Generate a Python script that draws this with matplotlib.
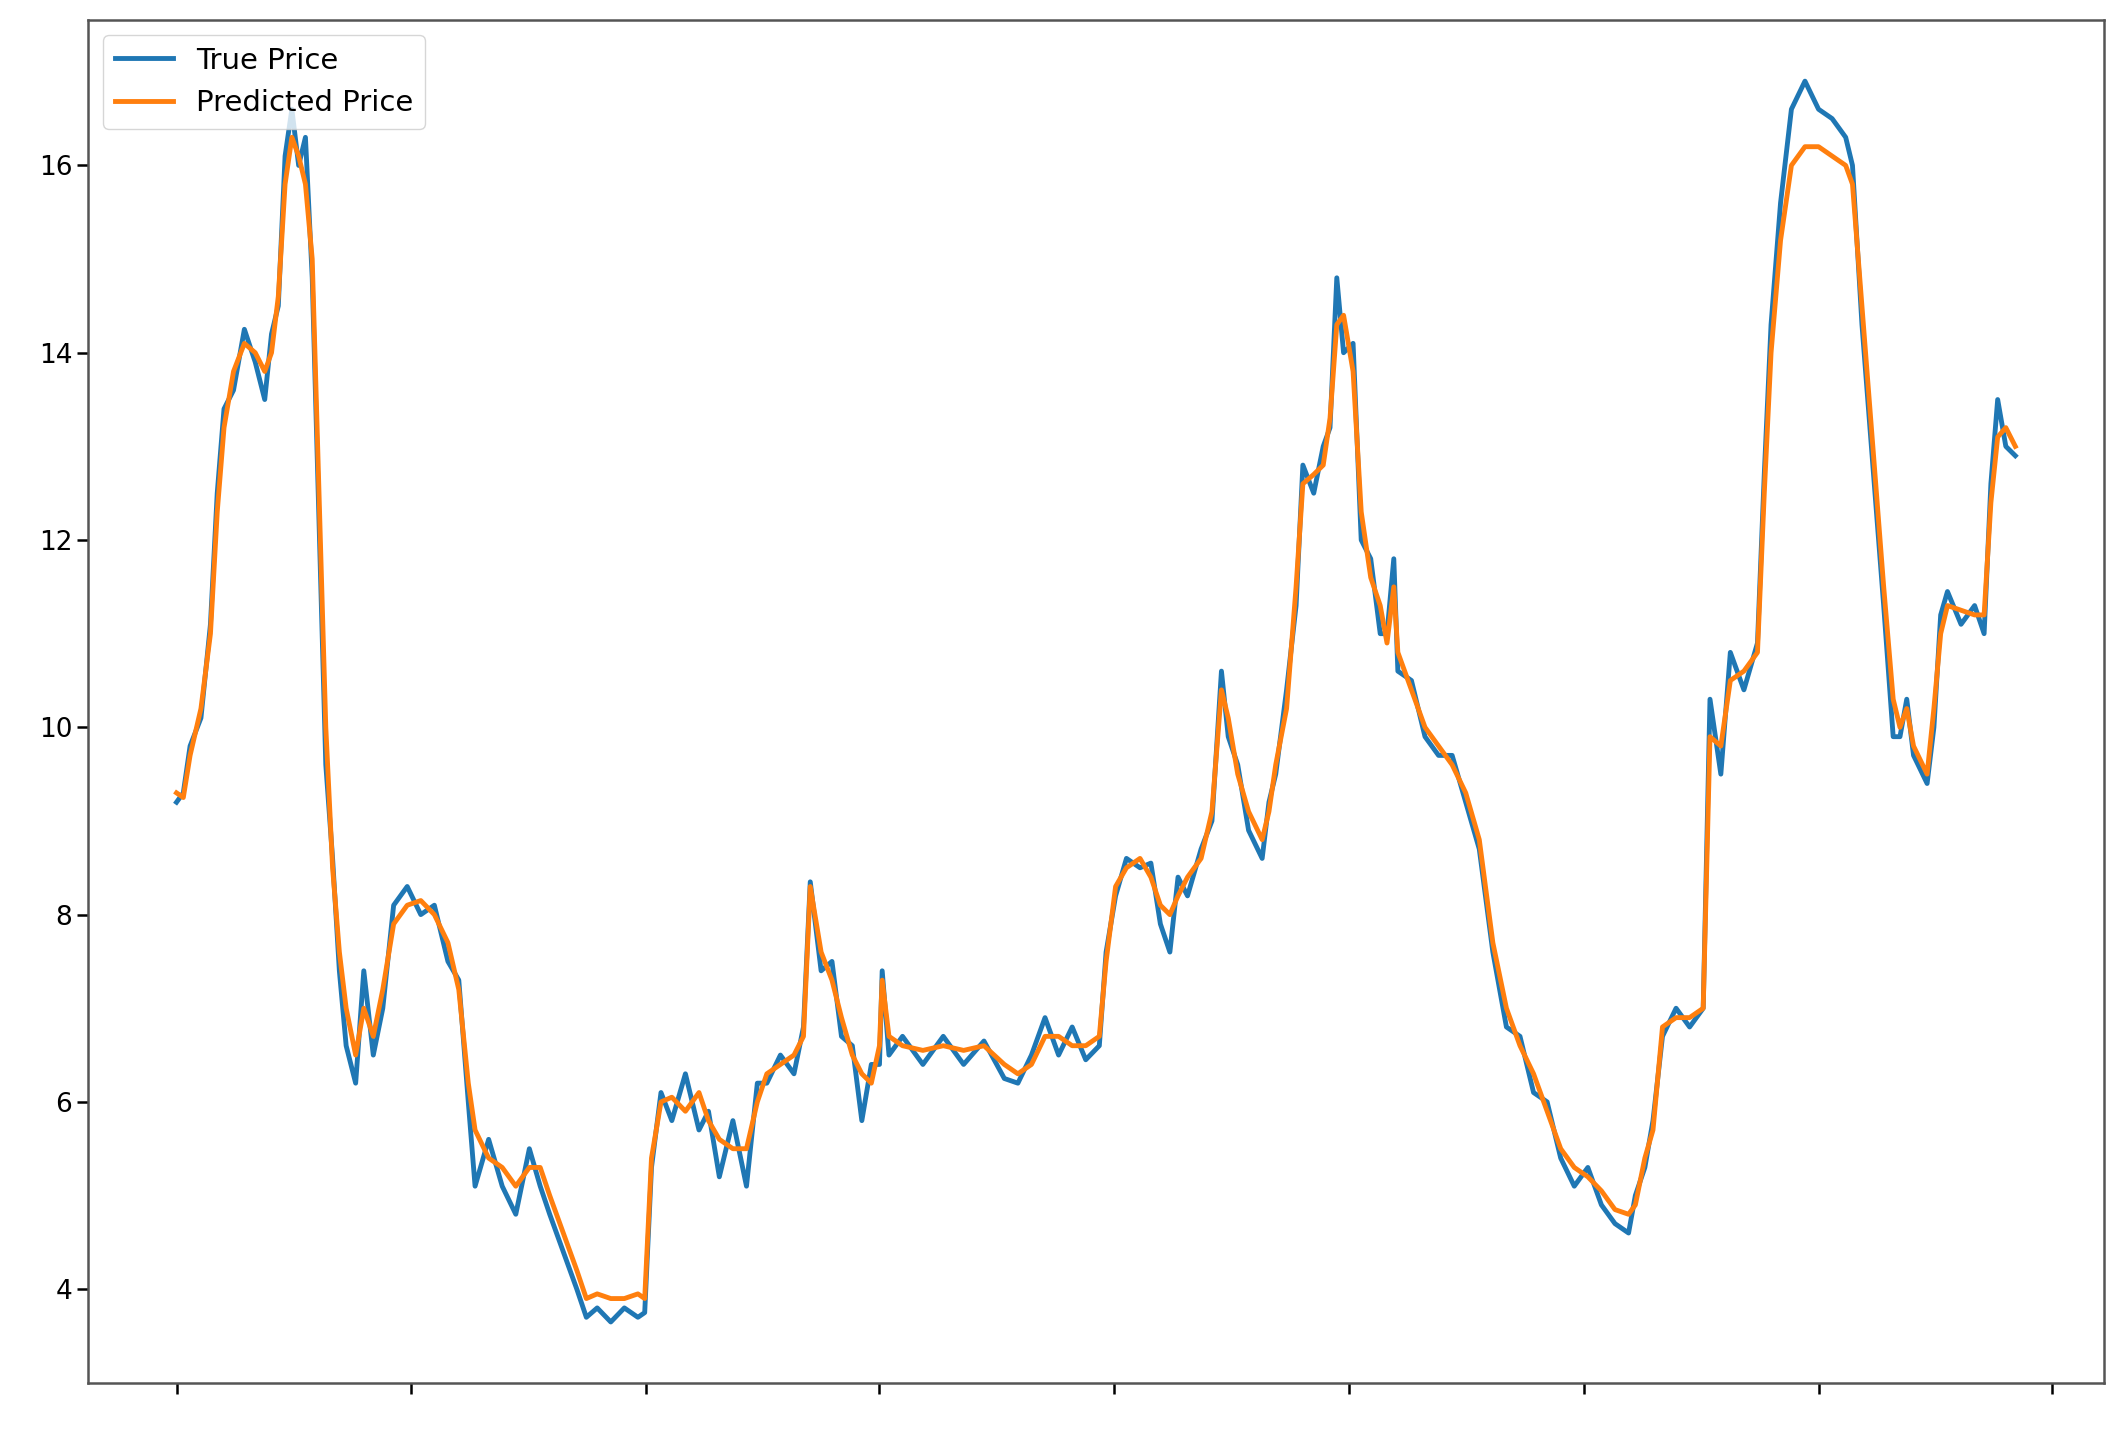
import numpy as np
import matplotlib.pyplot as plt

# time step (horizontal) positions of the sampled points
steps = [0, 5, 10, 18, 25, 30, 35, 42, 50, 58, 65, 70, 75, 80, 85, 90, 95, 100, 105, 110,
         115, 120, 125, 132, 138, 145, 152, 160, 170, 180, 190, 200, 208, 215, 220, 230, 240, 250,
         260, 268, 275, 285, 295, 302, 310, 320, 330, 340, 345, 350, 357, 365, 375, 385, 392, 400,
         410, 420, 428, 435, 445, 455, 462, 467, 475, 483, 490, 498, 505, 512, 518, 520, 525, 535,
         550, 565, 580, 595, 610, 620, 630, 640, 650, 660, 670, 680, 685, 692, 700, 710, 718, 725,
         732, 738, 745, 755, 763, 770, 775, 782, 790, 800, 805, 810, 818, 825, 830, 838, 845, 850,
         855, 860, 867, 873, 880, 887, 892, 897, 900, 910, 920, 930, 940, 950, 960, 970, 980, 990,
         1000, 1010, 1020, 1030, 1040, 1050, 1060, 1070, 1075, 1082, 1088, 1095, 1105, 1115, 1125,
         1130, 1138, 1145, 1155, 1165, 1170, 1175, 1182, 1190, 1200, 1210, 1220, 1230, 1235, 1242,
         1250, 1258, 1265, 1270, 1275, 1280, 1290, 1295, 1300, 1305, 1315, 1325, 1332, 1337, 1342,
         1348, 1355]

predicted = [9.3, 9.25, 9.7, 10.2, 11.0, 12.3, 13.2, 13.8, 14.1, 14.0, 13.8, 14.0, 14.6, 15.8,
             16.3, 16.1, 15.8, 15.0, 12.5, 10.0, 8.5, 7.6, 7.0, 6.5, 7.0, 6.7, 7.2, 7.9, 8.1, 8.15,
             8.0, 7.7, 7.2, 6.2, 5.7, 5.4, 5.3, 5.1, 5.3, 5.3, 5.0, 4.6, 4.2, 3.9, 3.95, 3.9, 3.9,
             3.95, 3.9, 5.4, 6.0, 6.05, 5.9, 6.1, 5.8, 5.6, 5.5, 5.5, 6.0, 6.3, 6.4, 6.5, 6.7, 8.3,
             7.6, 7.3, 6.9, 6.5, 6.3, 6.2, 6.6, 7.3, 6.7, 6.6, 6.55, 6.6, 6.55, 6.6, 6.4, 6.3, 6.4,
             6.7, 6.7, 6.6, 6.6, 6.7, 7.5, 8.3, 8.5, 8.6, 8.4, 8.1, 8.0, 8.2, 8.4, 8.6, 9.1, 10.4,
             10.1, 9.5, 9.1, 8.8, 9.1, 9.6, 10.2, 11.5, 12.6, 12.7, 12.8, 13.3, 14.3, 14.4, 13.8,
             12.3, 11.6, 11.3, 10.9, 11.5, 10.8, 10.4, 10.0, 9.8, 9.6, 9.3, 8.8, 7.7, 7.0, 6.6,
             6.3, 5.9, 5.5, 5.3, 5.2, 5.05, 4.85, 4.8, 4.9, 5.4, 5.7, 6.8, 6.9, 6.9, 7.0, 9.9, 9.8,
             10.5, 10.6, 10.8, 12.5, 14.0, 15.2, 16.0, 16.2, 16.2, 16.1, 16.0, 15.8, 14.5, 13.0,
             11.5, 10.3, 10.0, 10.2, 9.8, 9.5, 10.2, 11.0, 11.3, 11.25, 11.2, 11.2, 12.4, 13.1,
             13.2, 13.0]

true_price = [9.2, 9.3, 9.8, 10.1, 11.1, 12.5, 13.4, 13.6, 14.25, 13.9, 13.5, 14.2, 14.5, 16.1,
              16.6, 16.0, 16.3, 14.8, 12.2, 9.6, 8.6, 7.4, 6.6, 6.2, 7.4, 6.5, 7.0, 8.1, 8.3, 8.0,
              8.1, 7.5, 7.3, 6.0, 5.1, 5.6, 5.1, 4.8, 5.5, 5.1, 4.8, 4.4, 4.0, 3.7, 3.8, 3.65,
              3.8, 3.7, 3.75, 5.3, 6.1, 5.8, 6.3, 5.7, 5.9, 5.2, 5.8, 5.1, 6.2, 6.2, 6.5, 6.3, 6.8,
              8.35, 7.4, 7.5, 6.7, 6.6, 5.8, 6.4, 6.4, 7.4, 6.5, 6.7, 6.4, 6.7, 6.4, 6.65, 6.25,
              6.2, 6.5, 6.9, 6.5, 6.8, 6.45, 6.6, 7.6, 8.2, 8.6, 8.5, 8.55, 7.9, 7.6, 8.4, 8.2,
              8.7, 9.0, 10.6, 9.9, 9.6, 8.9, 8.6, 9.2, 9.5, 10.4, 11.3, 12.8, 12.5, 13.0, 13.2,
              14.8, 14.0, 14.1, 12.0, 11.8, 11.0, 11.0, 11.8, 10.6, 10.5, 9.9, 9.7, 9.7, 9.2, 8.7,
              7.6, 6.8, 6.7, 6.1, 6.0, 5.4, 5.1, 5.3, 4.9, 4.7, 4.6, 5.0, 5.3, 5.8, 6.7, 7.0, 6.8,
              7.0, 10.3, 9.5, 10.8, 10.4, 10.9, 12.7, 14.3, 15.6, 16.6, 16.9, 16.6, 16.5, 16.3,
              16.0, 14.3, 12.8, 11.3, 9.9, 9.9, 10.3, 9.7, 9.4, 10.0, 11.2, 11.45, 11.1, 11.3,
              11.0, 12.6, 13.5, 13.0, 12.9]

tick_steps = [0, 173, 346, 518, 691, 864, 1037, 1210, 1382]


def main():
    fig = plt.figure(figsize=(21.28, 14.48), dpi=100)
    ax = fig.add_axes([0.0415, 0.045, 0.947, 0.941])
    ax.plot(steps, true_price, color='#1f77b4', lw=3.5, label='True Price')
    ax.plot(steps, predicted, color='#ff7f0e', lw=3.5, label='Predicted Price')
    ax.set_xlim(-65, 1420)
    ax.set_ylim(3.0, 17.55)
    ax.set_xticks(tick_steps)
    ax.set_xticklabels([])
    ax.set_yticks([4, 6, 8, 10, 12, 14, 16])
    ax.tick_params(labelsize=19, length=8, width=1.8)
    for s in ax.spines.values():
        s.set_linewidth(1.8)
        s.set_color('#555555')
    ax.legend(loc='upper left', fontsize=21, handlelength=2)
    fig.savefig('out.png', dpi=100)


if __name__ == '__main__':
    main()
